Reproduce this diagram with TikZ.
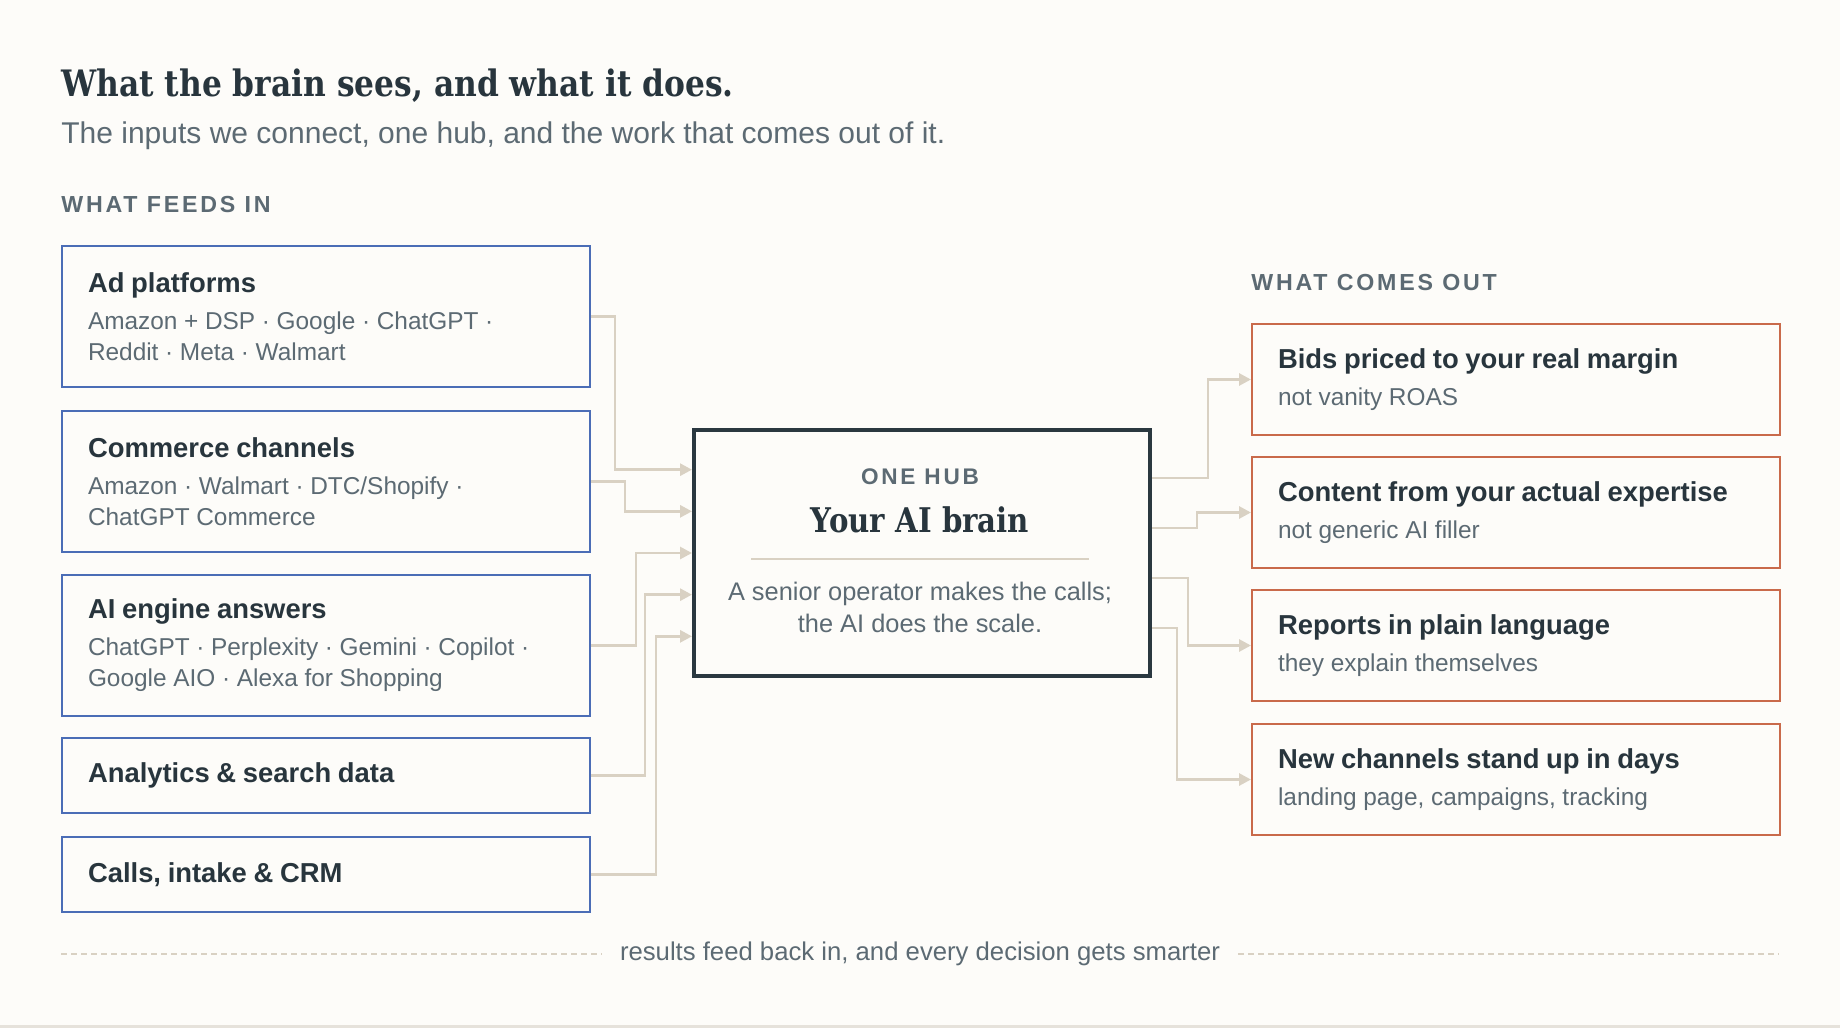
\documentclass[tikz,border=0pt]{standalone}
\usepackage{fontspec}
\setmainfont{Liberation Sans}
\newfontfamily\slabfont{DejaVu Serif}[FakeStretch=0.86]
\newfontfamily\trackfont{Liberation Sans}[LetterSpace=12]
\usetikzlibrary{arrows.meta,calc}
\definecolor{paper}{HTML}{FDFCF9}
\definecolor{ink}{HTML}{28353D}
\definecolor{slate}{HTML}{5C6A73}
\definecolor{feedblue}{HTML}{4B6DB6}
\definecolor{outrust}{HTML}{C96A4B}
\definecolor{wirebeige}{HTML}{D9D1C3}
\definecolor{hubink}{HTML}{2A3840}
\definecolor{rulegray}{HTML}{E6E2DB}
\newcommand{\boxhead}[1]{{\color{ink}\bfseries\fontsize{13.7}{16}\selectfont #1\par}}
\newcommand{\boxsub}[1]{\vspace{3pt}{\color{slate}\fontsize{12.2}{15.5}\selectfont #1\par}}
\tikzset{
  feedbox/.style={draw=feedblue,line width=1pt,fill=paper,anchor=north west,
    minimum width=264pt,text width=238pt,inner xsep=13pt,inner ysep=0pt,align=left},
  outbox/.style={feedbox,draw=outrust},
  wire/.style={draw=wirebeige,line width=1.4pt,-{Triangle[length=6pt,width=6pt]}},
  tag/.style={anchor=west,inner sep=0pt,text=slate,font=\trackfont\bfseries\fontsize{11.6}{13}\selectfont},
}
\begin{document}
\begin{tikzpicture}[x=0.5pt,y=-0.5pt]
\fill[paper] (0,0) rectangle (1840,1028);
\useasboundingbox (0,0) rectangle (1840,1028);
\draw[rulegray,line width=1.5pt] (0,1026) -- (1840,1026);
% heading
\node[anchor=base west,inner sep=0pt,text=ink,font=\slabfont\bfseries\fontsize{18.2}{21}\selectfont] (title) at (61,96) {What the brain sees, and what it does.};
\node[anchor=base west,inner sep=0pt,text=slate,font=\fontsize{15}{18}\selectfont] (subtitle) at (61,143) {The inputs we connect, one hub, and the work that comes out of it.};
\node[tag] (feedtag) at (61,205) {WHAT FEEDS IN};
\node[tag] (outtag) at (1251,283) {WHAT COMES OUT};
% inputs
\node[feedbox,minimum height=70.5pt] (ads) at (61,245) {\boxhead{Ad platforms}\boxsub{Amazon + DSP · Google · ChatGPT ·\\Reddit · Meta · Walmart}};
\node[feedbox,minimum height=70.5pt] (commerce) at (61,410) {\boxhead{Commerce channels}\boxsub{Amazon · Walmart · DTC/Shopify ·\\ChatGPT Commerce}};
\node[feedbox,minimum height=70.5pt] (engines) at (61,574) {\boxhead{AI engine answers}\boxsub{ChatGPT · Perplexity · Gemini · Copilot ·\\Google AIO · Alexa for Shopping}};
\node[feedbox,minimum height=37.5pt] (analytics) at (61,737) {\boxhead{Analytics \& search data}};
\node[feedbox,minimum height=37.5pt] (calls) at (61,836) {\boxhead{Calls, intake \& CRM}};
% hub
\node[draw=hubink,line width=2pt,fill=paper,anchor=north west,minimum width=228pt,minimum height=123pt] (hub) at (692,428) {};
\node[inner sep=0pt,text=slate,font=\trackfont\bfseries\fontsize{11.3}{13}\selectfont] (hubtag) at (920,477) {ONE HUB};
\node[inner sep=0pt,text=ink,font=\slabfont\bfseries\fontsize{17}{20}\selectfont] (hubname) at (920,520) {Your AI brain};
\draw[wirebeige,line width=0.7pt] (751,559) -- (1089,559);
\node[inner sep=0pt,text=slate,align=center,font=\fontsize{12.7}{16}\selectfont] (hubnote) at (920,607) {A senior operator makes the calls;\\the AI does the scale.};
% outputs
\node[outbox,minimum height=55.5pt] (bids) at (1251,323) {\boxhead{Bids priced to your real margin}\boxsub{not vanity ROAS}};
\node[outbox,minimum height=55.5pt] (content) at (1251,456) {\boxhead{Content from your actual expertise}\boxsub{not generic AI filler}};
\node[outbox,minimum height=55.5pt] (reports) at (1251,589) {\boxhead{Reports in plain language}\boxsub{they explain themselves}};
\node[outbox,minimum height=55.5pt] (launch) at (1251,723) {\boxhead{New channels stand up in days}\boxsub{landing page, campaigns, tracking}};
% wires in
\draw[wire] (ads.east) -- ++(24,0) |- ($(hub.north west)!1/6!(hub.south west)$);
\draw[wire] (commerce.east) -- ++(34,0) |- ($(hub.north west)!2/6!(hub.south west)$);
\draw[wire] (engines.east) -- ++(45,0) |- ($(hub.north west)!3/6!(hub.south west)$);
\draw[wire] (analytics.east) -- ++(54,0) |- ($(hub.north west)!4/6!(hub.south west)$);
\draw[wire] (calls.east) -- ++(65,0) |- ($(hub.north west)!5/6!(hub.south west)$);
% wires out
\draw[wire] ($(hub.north east)!1/5!(hub.south east)$) -- ++(56,0) |- (bids.west);
\draw[wire] ($(hub.north east)!2/5!(hub.south east)$) -- ++(45,0) |- (content.west);
\draw[wire] ($(hub.north east)!3/5!(hub.south east)$) -- ++(36,0) |- (reports.west);
\draw[wire] ($(hub.north east)!4/5!(hub.south east)$) -- ++(25,0) |- (launch.west);
% feedback loop
\node[inner sep=0pt,text=slate,font=\fontsize{12.85}{15}\selectfont] (loopnote) at (920,954) {results feed back in, and every decision gets smarter};
\coordinate (loopL) at (61,954);
\coordinate (loopR) at (1779,954);
\draw[wirebeige,line width=0.6pt,dash pattern=on 3pt off 2pt] (loopL) -- ([xshift=-9pt]loopnote.west);
\draw[wirebeige,line width=0.6pt,dash pattern=on 3pt off 2pt] ([xshift=9pt]loopnote.east) -- (loopR);
\end{tikzpicture}
\end{document}
